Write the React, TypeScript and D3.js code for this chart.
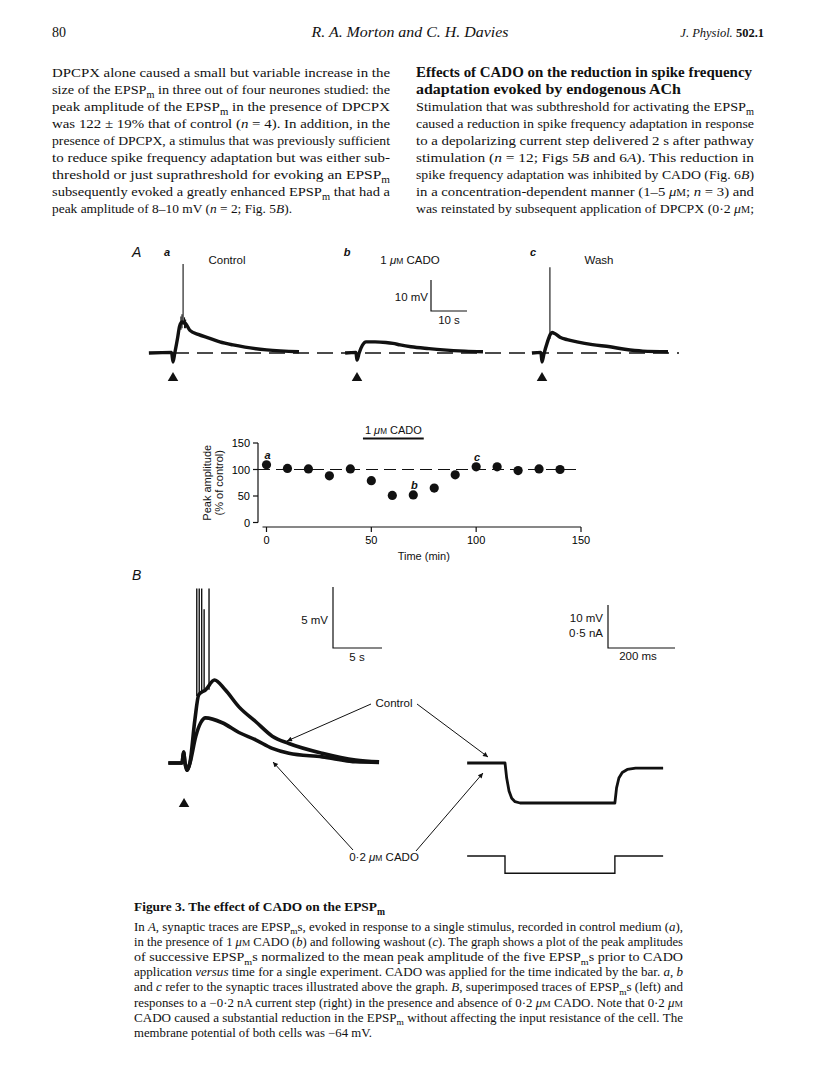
import React from "react";
import * as d3 from "d3";

const SERIF = "'Liberation Serif', 'Times New Roman', serif";
const SANS = "'Liberation Sans', Arial, Helvetica, sans-serif";
const INK = "#111";

// running head
const pageNumber = "80";
const runningAuthors = "R. A. Morton and C. H. Davies";
const journalName = "J. Physiol.";
const journalIssue = "502.1";

// body text. markup: /x/ italic, ~x~ subscript, ^x^ small capital
const leftColumn = [
  "DPCPX alone caused a small but variable increase in the",
  "size of the EPSP~m~ in three out of four neurones studied: the",
  "peak amplitude of the EPSP~m~ in the presence of DPCPX",
  "was 122 ± 19% that of control (/n/ = 4). In addition, in the",
  "presence of DPCPX, a stimulus that was previously sufficient",
  "to reduce spike frequency adaptation but was either sub-",
  "threshold or just suprathreshold for evoking an EPSP~m~",
  "subsequently evoked a greatly enhanced EPSP~m~ that had a",
  "peak amplitude of 8–10 mV (/n/ = 2; Fig. 5/B/).",
];
const rightHeading = [
  "Effects of CADO on the reduction in spike frequency",
  "adaptation evoked by endogenous ACh",
];
const rightColumn = [
  "Stimulation that was subthreshold for activating the EPSP~m~",
  "caused a reduction in spike frequency adaptation in response",
  "to a depolarizing current step delivered 2 s after pathway",
  "stimulation (/n/ = 12; Figs 5/B/ and 6/A/). This reduction in",
  "spike frequency adaptation was inhibited by CADO (Fig. 6/B/)",
  "in a concentration-dependent manner (1–5 /μ/^M^; /n/ = 3) and",
  "was reinstated by subsequent application of DPCPX (0·2 /μ/^M^;",
];
const captionTitle = "Figure 3. The effect of CADO on the EPSP~m~";
const captionLines = [
  "In /A/, synaptic traces are EPSP~m~s, evoked in response to a single stimulus, recorded in control medium (/a/),",
  "in the presence of 1 /μ/^M^ CADO (/b/) and following washout (/c/). The graph shows a plot of the peak amplitudes",
  "of successive EPSP~m~s normalized to the mean peak amplitude of the five EPSP~m~s prior to CADO",
  "application /versus/ time for a single experiment. CADO was applied for the time indicated by the bar. /a/, /b/",
  "and /c/ refer to the synaptic traces illustrated above the graph. /B/, superimposed traces of EPSP~m~s (left) and",
  "responses to a −0·2 nA current step (right) in the presence and absence of 0·2 /μ/^M^ CADO. Note that 0·2 /μ/^M^",
  "CADO caused a substantial reduction in the EPSP~m~ without affecting the input resistance of the cell. The",
  "membrane potential of both cells was −64 mV.",
];

// Fig 3A traces: [s after stimulus, mV above rest]
const epspControlA = [
  [-6.7, 0], [-0.4, 0.2], [0, -2.9], [0.5, 0], [1.3, 5], [1.8, 8.5], [2.5, 10], [3.5, 9.5],
  [4.7, 7.3], [7, 6], [10, 4.8], [13, 3.6], [16.7, 2.6], [20, 1.9], [26, 1], [35, 0.4],
];
const epspCadoA = [
  [-3.3, 0], [-0.3, 0.2], [0, -2.3], [0.6, 0], [1.5, 2.5], [2.5, 3.6], [5, 3.6], [8, 3.4],
  [10, 3.1], [12, 2.6], [15, 2], [20, 1.4], [24, 1], [30, 0.6], [35, 0.4],
];
const epspWashA = [
  [-2.8, 0], [-0.3, 0.2], [0, -2.9], [0.5, -0.5], [1.5, 3.5], [2.3, 6], [2.8, 6.6], [3.5, 6.3],
  [5, 5.1], [7, 4.3], [9.7, 3.6], [14, 2.7], [18.9, 2], [23, 1.2], [28, 0.6], [35, 0.4],
];
// [s, base mV, top mV]
const spikesControlA = [[2.2, 7.5, 11.8], [2.5, 8, 12.5], [2.8, 9, 28.7], [3.2, 8, 11.5], [3.5, 8, 10.8]];
const spikesCadoA: number[][] = [];
const spikesWashA = [[2.2, 4.5, 27.7]];

// Fig 3A graph
const sampleTimes = [0, 10, 20, 30, 40, 50, 60, 70, 80, 90, 100, 110, 120, 130, 140];
const peakAmplitude = [109, 102, 101, 88, 101, 79, 51, 52, 65, 90, 105, 105, 98, 101, 100];
const amplitudeTicks = [0, 50, 100, 150];
const timeTicks = [0, 50, 100, 150];
const cadoApplication = [46, 75];
const traceMarks = [
  { index: 0, label: "a" },
  { index: 7, label: "b" },
  { index: 10, label: "c" },
];

// Fig 3B left: [s after stimulus, mV above rest]
const epspControlB = [
  [-1.8, 0], [-0.4, 0], [-0.25, 0.9], [-0.1, 0], [0.1, -0.6], [0.4, 0], [0.9, 3.5], [1.3, 5.6],
  [2, 6], [2.9, 6.8], [4, 6], [5.4, 4.6], [7.1, 3.4], [8.8, 2.2], [10.5, 1.6], [13.9, 0.8],
  [17.3, 0.25], [19.7, 0.1],
];
const epspCadoB = [
  [-1.8, 0], [-0.4, 0], [-0.25, 0.9], [-0.1, 0], [0.1, -0.6], [0.4, 0], [1, 2.2], [1.5, 3.3],
  [2, 3.7], [3.7, 3.3], [5.4, 2.5], [7.1, 1.9], [8.8, 1.2], [10.5, 0.8], [13.9, 0.5],
  [17.3, 0.1], [19.7, 0.05],
];
const spikesControlB = [[1.1, 5.5, 14.3], [1.35, 5.5, 14.3], [1.6, 5.8, 14.3], [1.85, 6, 12.6], [2.35, 6, 14.3]];

// Fig 3B right: [ms from step onset, mV] and [ms, nA]
const stepResponse = [
  [-113, 0], [0, 0], [5, -3.5], [12, -6.5], [20, -8.2], [30, -9], [45, -9.3], [328, -9.3],
  [333, -5.8], [340, -3.5], [350, -2.2], [365, -1.5], [390, -1.2], [472, -1.2],
];
const stepCurrent = [[-113, 0], [0, 0], [0, -0.2], [328, -0.2], [328, 0], [472, 0]];

type RichProps = {
  text: string;
  x: number;
  y: number;
  size: number;
  family: string;
  width?: number;
  weight?: number | string;
  anchor?: "start" | "middle" | "end";
  italic?: boolean;
};

function RichText({ text, x, y, size, family, width, weight = 400, anchor = "start", italic = false }: RichProps) {
  const parts = text.split(/(\/[^/]+\/|~[^~]+~|\^[^^]+\^)/).filter((p) => p.length > 0);
  const sub = size * 0.28;
  let lowered = false;
  const spans = parts.map((p, i) => {
    const back = lowered ? -sub : 0;
    lowered = false;
    const kind = p[0];
    if (kind === "~") {
      lowered = true;
      return (
        <tspan key={i} dy={back + sub} fontSize={size * 0.72}>
          {p.slice(1, -1)}
        </tspan>
      );
    }
    if (kind === "/")
      return (
        <tspan key={i} dy={back || undefined} fontStyle="italic">
          {p.slice(1, -1)}
        </tspan>
      );
    if (kind === "^")
      return (
        <tspan key={i} dy={back || undefined} fontSize={size * 0.74}>
          {p.slice(1, -1)}
        </tspan>
      );
    return (
      <tspan key={i} dy={back || undefined}>
        {p}
      </tspan>
    );
  });
  return (
    <text
      x={x}
      y={y}
      fontSize={size}
      fontFamily={family}
      fontWeight={weight}
      fontStyle={italic ? "italic" : undefined}
      textAnchor={anchor}
      textLength={width}
      lengthAdjust={width ? "spacingAndGlyphs" : undefined}
      fill={INK}
    >
      {spans}
    </text>
  );
}

const tracePath = (
  data: number[][],
  sx: d3.ScaleLinear<number, number>,
  sy: d3.ScaleLinear<number, number>
) =>
  d3
    .line<number[]>()
    .x((d) => sx(d[0]))
    .y((d) => sy(d[1]))
    .curve(d3.curveMonotoneX)(data) || "";

const straightPath = (
  data: number[][],
  sx: d3.ScaleLinear<number, number>,
  sy: d3.ScaleLinear<number, number>
) =>
  d3
    .line<number[]>()
    .x((d) => sx(d[0]))
    .y((d) => sy(d[1]))(data) || "";

export default function App() {
  // page text layout
  const bodyTop = 77;
  const bodyStep = 17;
  const leftX = 52;
  const colW = 338;
  const rightX = 416;
  const capX = 134;
  const capW = 549;

  // Fig A traces
  const aY = d3.scaleLinear().domain([0, 10]).range([353, 322]);
  const aX = (x0: number) => d3.scaleLinear().domain([0, 10]).range([x0, x0 + 36]);
  const panelsA = [
    { data: epspControlA, spikes: spikesControlA, x: aX(173) },
    { data: epspCadoA, spikes: spikesCadoA, x: aX(357) },
    { data: epspWashA, spikes: spikesWashA, x: aX(542) },
  ];
  const triangle = d3.symbol().type(d3.symbolTriangle).size(48)() || "";
  const barA = d3.scaleLinear().domain([0, 10]).range([431, 467]);

  // Fig A graph
  const gx = d3.scaleLinear().domain([0, 150]).range([266.5, 581]);
  const gy = d3.scaleLinear().domain([0, 150]).range([522.5, 443]);
  const spineX = 258;
  const axisY = 527;

  // Fig B left
  const bX = d3.scaleLinear().domain([0, 5]).range([186, 235]);
  const bY = d3.scaleLinear().domain([0, 5]).range([763, 702]);
  const barBx = d3.scaleLinear().domain([0, 5]).range([333, 382]);
  const barBy = d3.scaleLinear().domain([0, 5]).range([648, 587]);

  // Fig B right
  const rX = d3.scaleLinear().domain([0, 200]).range([505, 572]);
  const rY = d3.scaleLinear().domain([0, 10]).range([763, 720]);
  const rI = d3.scaleLinear().domain([0, 0.5]).range([856, 813]);
  const barRx = d3.scaleLinear().domain([0, 200]).range([608, 675]);
  const barRy = d3.scaleLinear().domain([0, 10]).range([648, 605]);

  return (
    <svg
      width={816}
      height={1088}
      viewBox="0 0 816 1088"
      style={{ position: "absolute", left: 0, top: 0, display: "block", background: "#fff" }}
    >
      <defs>
        <marker
          id="tip"
          viewBox="0 0 10 10"
          refX={10}
          refY={5}
          markerWidth={9}
          markerHeight={5}
          markerUnits="userSpaceOnUse"
          orient="auto"
        >
          <path d="M0,0L10,5L0,10z" fill={INK} />
        </marker>
      </defs>

      {/* running head */}
      <text x={52} y={37} fontFamily={SERIF} fontSize={14} fill={INK}>
        {pageNumber}
      </text>
      <text x={410} y={37} fontFamily={SERIF} fontSize={15} fontStyle="italic" textAnchor="middle" textLength={197} lengthAdjust="spacingAndGlyphs" fill={INK}>
        {runningAuthors}
      </text>
      <text x={764} y={37} fontFamily={SERIF} fontSize={12.5} textAnchor="end" fill={INK}>
        <tspan fontStyle="italic">{journalName}</tspan>
        <tspan fontWeight={700}> {journalIssue}</tspan>
      </text>

      {/* body text */}
      {leftColumn.map((line, i) => (
        <RichText
          key={"l" + i}
          text={line}
          x={leftX}
          y={bodyTop + i * bodyStep}
          size={13.5}
          family={SERIF}
          width={i === leftColumn.length - 1 ? 240 : colW}
        />
      ))}
      {rightHeading.map((line, i) => (
        <RichText
          key={"h" + i}
          text={line}
          x={rightX}
          y={bodyTop + i * bodyStep}
          size={14}
          family={SERIF}
          weight={700}
          width={i === 0 ? 336 : 265}
        />
      ))}
      {rightColumn.map((line, i) => (
        <RichText
          key={"r" + i}
          text={line}
          x={rightX}
          y={bodyTop + (i + 2) * bodyStep}
          size={13.5}
          family={SERIF}
          width={colW}
        />
      ))}

      {/* Figure A: traces */}
      <text x={132} y={257} fontFamily={SANS} fontSize={14} fontStyle="italic" fill={INK}>
        A
      </text>
      <text x={167} y={256} fontFamily={SANS} fontSize={11} fontStyle="italic" fontWeight={700} textAnchor="middle" fill={INK}>a</text>
      <text x={347} y={256} fontFamily={SANS} fontSize={11} fontStyle="italic" fontWeight={700} textAnchor="middle" fill={INK}>b</text>
      <text x={533} y={256} fontFamily={SANS} fontSize={11} fontStyle="italic" fontWeight={700} textAnchor="middle" fill={INK}>c</text>
      <text x={227} y={264} fontFamily={SANS} fontSize={11.5} textAnchor="middle" fill={INK}>Control</text>
      <RichText text="1 /μ/^M^ CADO" x={410} y={264} size={11.5} family={SANS} anchor="middle" />
      <text x={599} y={264} fontFamily={SANS} fontSize={11.5} textAnchor="middle" fill={INK}>Wash</text>

      <line x1={149} x2={679} y1={aY(0)} y2={aY(0)} stroke={INK} strokeWidth={1.3} strokeDasharray="16 8" />
      {panelsA.map((p, i) => (
        <g key={"pa" + i}>
          <path d={tracePath(p.data, p.x, aY)} fill="none" stroke={INK} strokeWidth={3.4} strokeLinejoin="round" />
          {p.spikes.map((s, j) => (
            <line key={j} x1={p.x(s[0])} x2={p.x(s[0])} y1={aY(s[1])} y2={aY(s[2])} stroke={INK} strokeWidth={1.1} />
          ))}
          <path d={triangle} transform={`translate(${p.x(0)},${378})`} fill={INK} />
        </g>
      ))}
      {/* scale bar A */}
      <path
        d={`M${barA(0)},${aY(10) - 42}V${aY(0) - 42}H${barA(10)}`}
        fill="none"
        stroke={INK}
        strokeWidth={1.2}
      />
      <text x={428} y={301} fontFamily={SANS} fontSize={11.5} textAnchor="end" fill={INK}>10 mV</text>
      <text x={449} y={324} fontFamily={SANS} fontSize={11.5} textAnchor="middle" fill={INK}>10 s</text>

      {/* Figure A: graph */}
      <line x1={gx(cadoApplication[0])} x2={gx(cadoApplication[1])} y1={438.5} y2={438.5} stroke={INK} strokeWidth={1.8} />
      <RichText text="1 /μ/^M^ CADO" x={gx(d3.mean(cadoApplication) as number)} y={434} size={11} family={SANS} anchor="middle" />

      <line x1={spineX} x2={spineX} y1={gy(150)} y2={gy(0)} stroke={INK} strokeWidth={1.2} />
      {amplitudeTicks.map((t) => (
        <g key={"yt" + t}>
          <line x1={spineX - 5} x2={spineX} y1={gy(t)} y2={gy(t)} stroke={INK} strokeWidth={1.2} />
          <text x={spineX - 8} y={gy(t) + 4} fontFamily={SANS} fontSize={11} textAnchor="end" fill="#000">
            {t}
          </text>
        </g>
      ))}
      <line x1={gx(0) - 4} x2={gx(150)} y1={axisY} y2={axisY} stroke={INK} strokeWidth={1.2} />
      {timeTicks.map((t) => (
        <g key={"xt" + t}>
          <line x1={gx(t)} x2={gx(t)} y1={axisY} y2={axisY + 5} stroke={INK} strokeWidth={1.2} />
          <text x={gx(t)} y={axisY + 17} fontFamily={SANS} fontSize={11} textAnchor="middle" fill="#000">
            {t}
          </text>
        </g>
      ))}
      <text x={gx(75)} y={560} fontFamily={SANS} fontSize={11} textAnchor="middle" fill={INK}>Time (min)</text>
      <text x={211} y={gy(75)} fontFamily={SANS} fontSize={11} textAnchor="middle" transform={`rotate(-90,211,${gy(75)})`} fill={INK}>
        Peak amplitude
      </text>
      <text x={223} y={gy(75)} fontFamily={SANS} fontSize={11} textAnchor="middle" transform={`rotate(-90,223,${gy(75)})`} fill={INK}>
        (% of control)
      </text>
      <line x1={spineX} x2={gx(150) + 1} y1={gy(100)} y2={gy(100)} stroke={INK} strokeWidth={1.2} strokeDasharray="12 6" />
      {sampleTimes.map((t, i) => (
        <circle key={"pt" + i} cx={gx(t)} cy={gy(peakAmplitude[i])} r={4.6} fill={INK} />
      ))}
      {traceMarks.map((m) => (
        <text
          key={m.label}
          x={gx(sampleTimes[m.index]) + 1}
          y={gy(peakAmplitude[m.index]) - 6}
          fontFamily={SANS}
          fontSize={11}
          fontStyle="italic"
          fontWeight={700}
          textAnchor="middle"
          fill={INK}
        >
          {m.label}
        </text>
      ))}

      {/* Figure B */}
      <text x={132} y={580} fontFamily={SANS} fontSize={14} fontStyle="italic" fill={INK}>
        B
      </text>
      <path d={tracePath(epspCadoB, bX, bY)} fill="none" stroke={INK} strokeWidth={3.6} strokeLinejoin="round" />
      <path d={tracePath(epspControlB, bX, bY)} fill="none" stroke={INK} strokeWidth={3.6} strokeLinejoin="round" />
      {spikesControlB.map((s, j) => (
        <line key={"sb" + j} x1={bX(s[0])} x2={bX(s[0])} y1={bY(s[1])} y2={bY(s[2])} stroke={INK} strokeWidth={1.4} />
      ))}
      <path d={triangle} transform={`translate(${bX(-0.2)},${804})`} fill={INK} />
      <path d={`M${barBx(0)},${barBy(5)}V${barBy(0)}H${barBx(5)}`} fill="none" stroke={INK} strokeWidth={1.2} />
      <text x={328} y={624} fontFamily={SANS} fontSize={11.5} textAnchor="end" fill={INK}>5 mV</text>
      <text x={357} y={661} fontFamily={SANS} fontSize={11.5} textAnchor="middle" fill={INK}>5 s</text>

      <path d={straightPath(stepResponse, rX, rY)} fill="none" stroke={INK} strokeWidth={2.8} strokeLinejoin="round" />
      <path d={straightPath(stepCurrent, rX, rI)} fill="none" stroke={INK} strokeWidth={1.4} />
      <path d={`M${barRx(0)},${barRy(10)}V${barRy(0)}H${barRx(200)}`} fill="none" stroke={INK} strokeWidth={1.2} />
      <text x={603} y={622} fontFamily={SANS} fontSize={11.5} textAnchor="end" fill={INK}>10 mV</text>
      <text x={603} y={637} fontFamily={SANS} fontSize={11.5} textAnchor="end" fill={INK}>0·5 nA</text>
      <text x={638} y={660} fontFamily={SANS} fontSize={11.5} textAnchor="middle" fill={INK}>200 ms</text>

      {/* annotations */}
      <text x={394} y={707} fontFamily={SANS} fontSize={11.5} textAnchor="middle" fill={INK}>Control</text>
      <line x1={371} y1={704} x2={287} y2={741} stroke={INK} strokeWidth={1} markerEnd="url(#tip)" />
      <line x1={417} y1={704} x2={488} y2={757} stroke={INK} strokeWidth={1} markerEnd="url(#tip)" />
      <RichText text="0·2 /μ/^M^ CADO" x={384} y={861} size={11.5} family={SANS} anchor="middle" />
      <line x1={353} y1={850} x2={273} y2={762} stroke={INK} strokeWidth={1} markerEnd="url(#tip)" />
      <line x1={416} y1={851} x2={483} y2={773} stroke={INK} strokeWidth={1} markerEnd="url(#tip)" />

      {/* caption */}
      <RichText text={captionTitle} x={capX} y={911} size={13} family={SERIF} weight={700} width={251} />
      {captionLines.map((line, i) => (
        <RichText
          key={"c" + i}
          text={line}
          x={capX}
          y={931 + i * 15.1}
          size={12}
          family={SERIF}
          width={i === captionLines.length - 1 ? 238 : capW}
        />
      ))}
    </svg>
  );
}
